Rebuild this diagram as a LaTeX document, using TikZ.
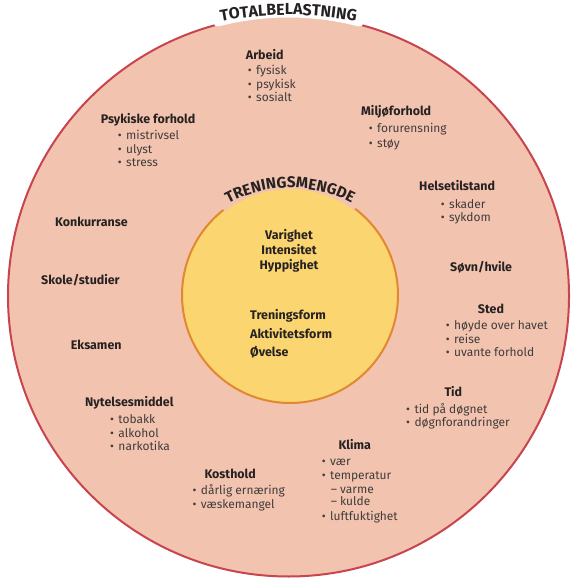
\documentclass[tikz,border=0pt]{standalone}
\usepackage{fontspec}
\setmainfont{Fira Sans}
\newfontfamily\arcfont[LetterSpace=4]{Fira Sans}
\usetikzlibrary{decorations.text}
\definecolor{outerfill}{RGB}{242,195,174}
\definecolor{outerline}{RGB}{200,68,78}
\definecolor{innerfill}{RGB}{250,213,112}
\definecolor{innerline}{RGB}{226,136,48}
\definecolor{headc}{RGB}{38,34,34}
\definecolor{itemc}{RGB}{64,60,60}
\newcommand{\bul}{\llap{\textbullet\hspace{4.5bp}}}
\newcommand{\dsh}{\llap{–\hspace{3bp}}}
\tikzset{
  head/.style={anchor=base west, inner sep=0pt, font=\fontsize{12.5}{13}\selectfont\bfseries, text=headc},
  itm/.style={anchor=base west, inner sep=0pt, font=\fontsize{12}{13}\selectfont, text=itemc},
  inhead/.style={anchor=base, inner sep=0pt, font=\fontsize{12.5}{13}\selectfont\bfseries, text=headc},
}
\begin{document}
\begin{tikzpicture}[x=1bp,y=1bp]
\fill[white] (0,0) rectangle (576,581);
\useasboundingbox (0,0) rectangle (576,581);
% outer circle
\coordinate (oc) at (288.5,285);
\filldraw[fill=outerfill, draw=outerline, line width=2bp] (oc) circle[radius=280.5bp];
\draw[white, line width=9bp, line cap=round] (oc) ++(75.5:283bp) arc[start angle=75.5, end angle=104.5, radius=283bp];
\coordinate (tc) at (288.5,206);
\path[decorate, decoration={text along path, text align=center,
  text={|\arcfont\fontsize{16}{16}\selectfont\bfseries\color{headc}|TOTALBELASTNING}}]
  (tc) ++(112:360bp) arc[start angle=112, end angle=68, radius=360bp];
% inner circle
\coordinate (ic) at (290,286);
\filldraw[fill=innerfill, draw=innerline, line width=2bp] (ic) circle[radius=108bp];
\draw[outerfill, line width=4bp] (ic) ++(53:108bp) arc[start angle=53, end angle=128, radius=108bp];
\coordinate (icc) at (290,263);
\path[decorate, decoration={text along path, text align=center,
  text={|\arcfont\fontsize{15.5}{16}\selectfont\bfseries\color{headc}|TRENINGSMENGDE}}]
  (icc) ++(155:130bp) arc[start angle=155, end angle=25, radius=130bp];
% inner texts
\node[inhead] (var) at (289,341) {Varighet};
\node[inhead] (int) at (289,326) {Intensitet};
\node[inhead] (hyp) at (289,311.7) {Hyppighet};
\node[head] (tf) at (250,261) {Treningsform};
\node[head] (af) at (250,242.7) {Aktivitetsform};
\node[head] (ov) at (250,224.3) {Øvelse};
% Arbeid
\node[head] (arb) at (245.7,521) {Arbeid};
\node[itm] (arb1) at (256,506) {\bul fysisk};
\node[itm] (arb2) at (256,492.7) {\bul psykisk};
\node[itm] (arb3) at (256,479.3) {\bul sosialt};
% Psykiske forhold
\node[head] (psy) at (100.7,457.7) {Psykiske forhold};
\node[itm] (psy1) at (126,441.7) {\bul mistrivsel};
\node[itm] (psy2) at (126,427.7) {\bul ulyst};
\node[itm] (psy3) at (126,414.3) {\bul stress};
% Miljoforhold
\node[head] (mil) at (361,465) {Miljøforhold};
\node[itm] (mil1) at (377,448) {\bul forurensning};
\node[itm] (mil2) at (377,433.7) {\bul støy};
% Helsetilstand
\node[head] (hel) at (419,390.3) {Helsetilstand};
\node[itm] (hel1) at (449,372.7) {\bul skader};
\node[itm] (hel2) at (449,359.3) {\bul sykdom};
% Sovn
\node[head] (sov) at (450,309.3) {Søvn/hvile};
% Sted
\node[head] (sted) at (477.7,267.7) {Sted};
\node[itm] (sted1) at (454,251.7) {\bul høyde over havet};
\node[itm] (sted2) at (454,237) {\bul reise};
\node[itm] (sted3) at (454,224.3) {\bul uvante forhold};
% Tid
\node[head] (tid) at (444.3,184.3) {Tid};
\node[itm] (tid1) at (414.3,167.7) {\bul tid på døgnet};
\node[itm] (tid2) at (414.3,154.3) {\bul døgnforandringer};
% left side
\node[head] (kon) at (55,354.3) {Konkurranse};
\node[head] (sko) at (41,296) {Skole/studier};
\node[head] (eks) at (70.7,231.7) {Eksamen};
% Nytelsesmiddel
\node[head] (nyt) at (85,174.3) {Nytelsesmiddel};
\node[itm] (nyt1) at (118.3,157.7) {\bul tobakk};
\node[itm] (nyt2) at (118.3,143.7) {\bul alkohol};
\node[itm] (nyt3) at (118.3,130.3) {\bul narkotika};
% Klima
\node[head] (kli) at (338.3,131) {Klima};
\node[itm] (kli1) at (330,115) {\bul vær};
\node[itm] (kli2) at (330,101) {\bul temperatur};
\node[itm] (kli3) at (340,87) {\dsh varme};
\node[itm] (kli4) at (340,75) {\dsh kulde};
\node[itm] (kli5) at (330,60.3) {\bul luftfuktighet};
% Kosthold
\node[head] (kos) at (204.3,102.7) {Kosthold};
\node[itm] (kos1) at (200.7,86) {\bul dårlig ernæring};
\node[itm] (kos2) at (200.7,72.7) {\bul væskemangel};
\end{tikzpicture}
\end{document}
